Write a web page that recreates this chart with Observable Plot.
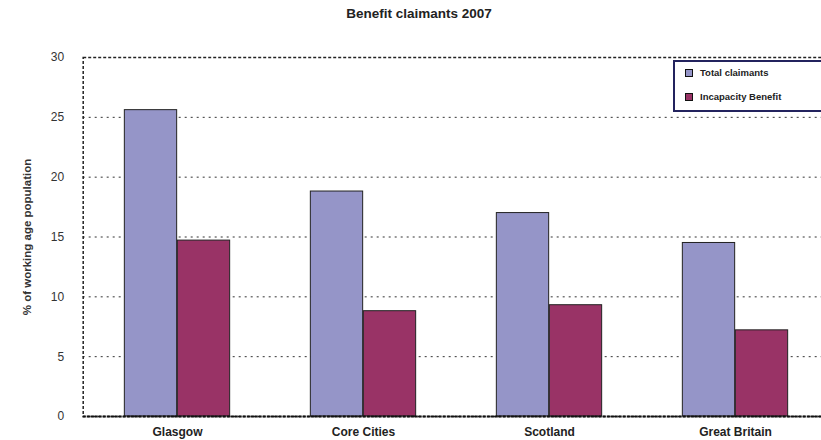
<!DOCTYPE html>
<html>
<head>
<meta charset="utf-8">
<script src="https://cdn.jsdelivr.net/npm/d3@7"></script>
<script src="https://cdn.jsdelivr.net/npm/@observablehq/plot@0.6"></script>
<style>
  html, body { margin: 0; padding: 0; background: #fff; }
  #wrap { position: relative; width: 821px; height: 440px; overflow: hidden; font-family: "Liberation Sans", Arial, sans-serif; }
  #title { position: absolute; top: 6px; left: 0; width: 838px; text-align: center; font-weight: bold; font-size: 13.5px; color: #222; }
  #chart { position: absolute; top: 47px; left: 0; width: 830px; }
  #chart svg { max-width: none !important; }
  #legend { position: absolute; left: 673px; top: 60px; width: 150px; height: 52px; border: 2px solid #23235e; background: #fff; box-sizing: border-box; font-size: 9.5px; color: #222; font-weight: bold; }
  .item { position: absolute; left: 10px; display: flex; align-items: center; }
  .sw { width: 6px; height: 6px; border: 1px solid #111; margin-right: 7px; }
  g[aria-label="y-axis label"] text { font-weight: bold; font-size: 11.5px; }
  g[aria-label="x-axis tick label"] text { font-weight: bold; }
</style>
</head>
<body>
<div id="wrap">
  <div id="title">Benefit claimants 2007</div>
  <div id="chart"></div>
  <div id="legend"></div>
</div>
<script>
const categories = ["Glasgow", "Core Cities", "Scotland", "Great Britain"];
const seriesNames = ["Total claimants", "Incapacity Benefit"];
const totalClaimants = [25.6, 18.8, 17.0, 14.5];
const incapacityBenefit = [14.7, 8.8, 9.3, 7.2];
const yTicks = [0, 5, 10, 15, 20, 25, 30];
const colors = ["#9595c8", "#993366"];

const totalRows = categories.map((c, i) => ({category: c, series: seriesNames[0], value: totalClaimants[i]}));
const incapRows = categories.map((c, i) => ({category: c, series: seriesNames[1], value: incapacityBenefit[i]}));

const W = 830, H = 393, ML = 82.7, MR = 0.6;
const step = (W - ML - MR) / categories.length;
const barW = 53;
const half = step / 2;

const chart = Plot.plot({
  width: W,
  height: H,
  marginTop: 10,
  marginBottom: 24,
  marginLeft: ML,
  marginRight: MR,
  style: {fontFamily: "'Liberation Sans', Arial, sans-serif", fontSize: "12px", color: "#333", background: "#fff"},
  x: {domain: categories, padding: 0, label: null},
  y: {domain: [0, 30], label: "% of working age population"},
  marks: [
    Plot.ruleY(yTicks.filter(t => t > 0 && t < 30), {stroke: "#333", strokeDasharray: "2,4", strokeWidth: 1}),
    Plot.barY(totalRows, {x: "category", y: "value", fill: colors[0], stroke: "#222", strokeWidth: 1, insetLeft: half - barW, insetRight: half}),
    Plot.barY(incapRows, {x: "category", y: "value", fill: colors[1], stroke: "#222", strokeWidth: 1, insetLeft: half, insetRight: half - barW}),
    Plot.frame({stroke: "#222", strokeDasharray: "3,2", strokeWidth: 1.5}),
    Plot.ruleY([0], {stroke: "#111", strokeWidth: 2, strokeDasharray: "3,1"}),
    Plot.axisY({ticks: yTicks, tickSize: 0, tickPadding: 19, fontSize: 12, label: "% of working age population", labelAnchor: "center", labelOffset: 60, labelArrow: "none", fill: "#333"}),
    Plot.axisX({tickSize: 0, tickPadding: 11, fontSize: 12, fontWeight: "bold", label: null, fill: "#222"})
  ]
});
document.getElementById("chart").appendChild(chart);

const legend = document.getElementById("legend");
seriesNames.forEach((name, i) => {
  const item = document.createElement("div");
  item.className = "item";
  item.style.top = (i === 0 ? 5 : 29) + "px";
  const sw = document.createElement("div");
  sw.className = "sw";
  sw.style.background = colors[i];
  const label = document.createElement("span");
  label.textContent = name;
  item.appendChild(sw);
  item.appendChild(label);
  legend.appendChild(item);
});
</script>
</body>
</html>
